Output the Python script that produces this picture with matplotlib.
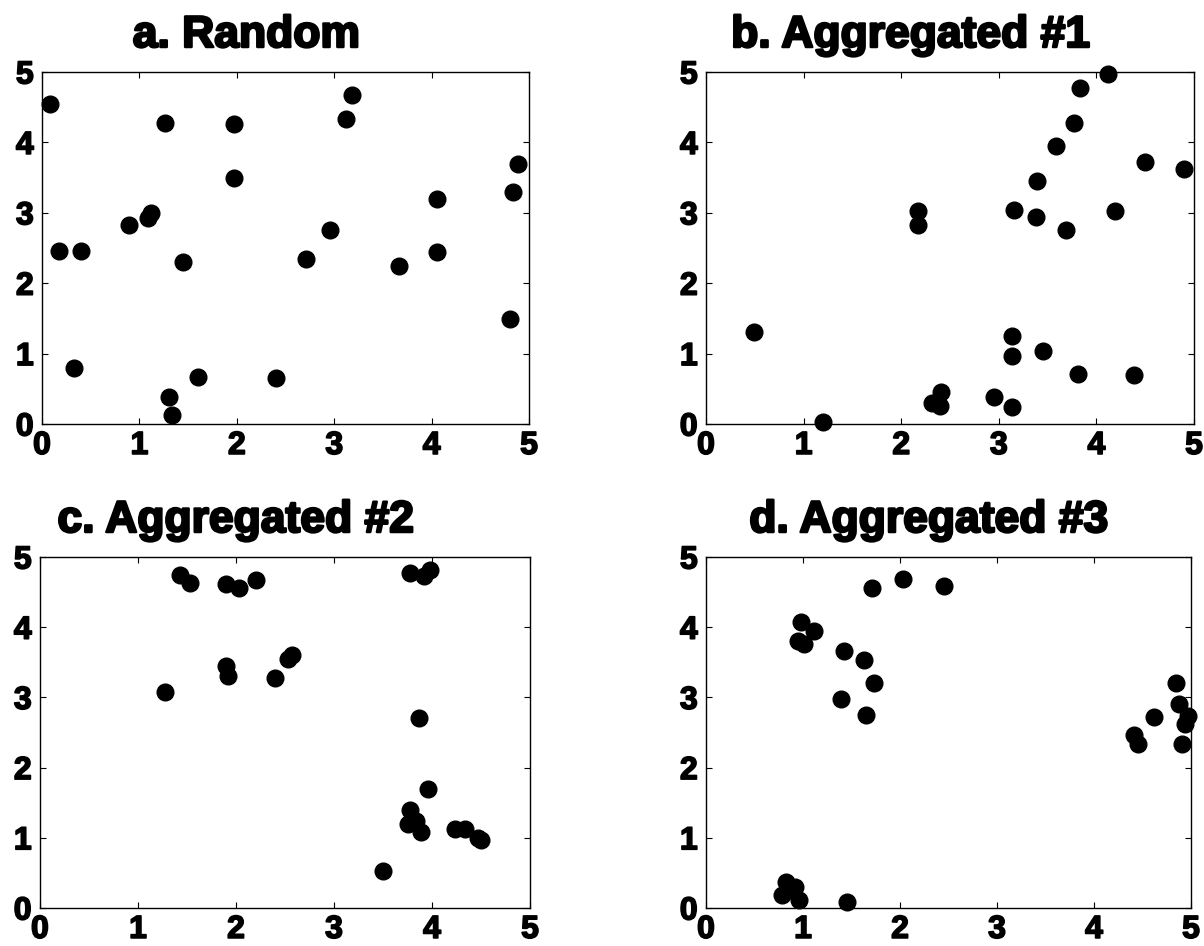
import matplotlib
matplotlib.use("Agg")
import matplotlib.pyplot as plt
import matplotlib.patheffects as pe

# point locations for each pattern (x, y in 0..5 units)
random_x = [0.08, 0.17, 0.40, 0.33, 0.89, 1.09, 1.12, 1.26, 1.45, 1.30, 1.33, 1.60, 1.97,
            1.97, 2.40, 2.71, 2.96, 3.12, 3.18, 3.67, 4.06, 4.06, 4.89, 4.84, 4.80]
random_y = [4.54, 2.46, 2.46, 0.79, 2.83, 2.93, 3.00, 4.28, 2.30, 0.38, 0.13, 0.67, 4.26,
            3.49, 0.65, 2.34, 2.75, 4.33, 4.67, 2.25, 3.20, 2.45, 3.70, 3.29, 1.49]

agg1_x = [0.49, 1.20, 2.17, 2.17, 2.32, 2.41, 2.40, 2.95, 3.13, 3.13, 3.13, 3.16, 3.38,
          3.39, 3.45, 3.59, 3.69, 3.77, 3.83, 3.81, 4.12, 4.19, 4.39, 4.50, 4.90]
agg1_y = [1.30, 0.03, 3.03, 2.82, 0.30, 0.46, 0.25, 0.39, 0.24, 0.96, 1.25, 3.04, 2.94,
          3.45, 1.04, 3.95, 2.76, 4.28, 4.77, 0.71, 4.97, 3.02, 0.70, 3.72, 3.62]

agg2_x = [1.28, 1.43, 1.53, 1.90, 2.03, 2.20, 1.90, 1.92, 2.40, 2.53, 2.57, 3.78, 3.92,
          3.98, 3.87, 3.96, 3.78, 3.76, 3.89, 3.84, 3.50, 4.23, 4.34, 4.50, 4.47]
agg2_y = [3.08, 4.74, 4.63, 4.61, 4.56, 4.67, 3.45, 3.30, 3.27, 3.55, 3.61, 4.77, 4.73,
          4.82, 2.71, 1.70, 1.40, 1.20, 1.08, 1.24, 0.52, 1.13, 1.13, 0.97, 1.00]

agg3_x = [1.71, 2.03, 2.45, 0.98, 1.11, 0.95, 1.01, 1.42, 1.63, 1.73, 1.39, 1.65, 0.82,
          0.78, 0.92, 0.96, 0.86, 1.45, 4.41, 4.45, 4.62, 4.85, 4.88, 4.97, 4.94, 4.91]
agg3_y = [4.56, 4.69, 4.59, 4.07, 3.95, 3.80, 3.76, 3.66, 3.53, 3.20, 2.97, 2.75, 0.37,
          0.18, 0.30, 0.11, 0.25, 0.09, 2.47, 2.33, 2.72, 3.21, 2.90, 2.74, 2.62, 2.33]

titles = ["a. Random", "b. Aggregated #1", "c. Aggregated #2", "d. Aggregated #3"]
ticks = [0, 1, 2, 3, 4, 5]

panels = [(random_x, random_y), (agg1_x, agg1_y), (agg2_x, agg2_y), (agg3_x, agg3_y)]
# axes boxes in figure fraction [left, bottom, width, height]
boxes = [[0.0349, 0.5518, 0.4045, 0.3721],
         [0.5864, 0.5518, 0.4053, 0.3721],
         [0.0332, 0.0402, 0.4070, 0.3710],
         [0.5864, 0.0402, 0.4028, 0.3710]]
title_x = [0.42, 0.42, 0.40, 0.46]

plt.rcParams['font.family'] = ['Liberation Sans', 'DejaVu Sans']
fig = plt.figure(figsize=(12.04, 9.46), dpi=100)

heavy = [pe.withStroke(linewidth=1.2, foreground='black')]

for (xs, ys), box, title, tx in zip(panels, boxes, titles, title_x):
    ax = fig.add_axes(box)
    ax.plot(xs, ys, 'o', color='black', markersize=12, clip_on=False)
    ax.set_xlim(0, 5)
    ax.set_ylim(0, 5)
    ax.set_xticks(ticks)
    ax.set_yticks(ticks)
    ax.tick_params(direction='in', length=4, width=0.8, top=True, right=True, labelsize=23)
    ax.tick_params(axis='x', pad=5)
    ax.tick_params(axis='y', pad=6)
    for lab in ax.get_xticklabels() + ax.get_yticklabels():
        lab.set_fontweight('bold')
        lab.set_path_effects(heavy)
    for sp in ax.spines.values():
        sp.set_linewidth(1.0)
    t = ax.set_title(title, fontsize=32, fontweight='bold', x=tx, pad=18)
    t.set_path_effects([pe.withStroke(linewidth=1.8, foreground='black')])

fig.savefig("out.png", dpi=100)
